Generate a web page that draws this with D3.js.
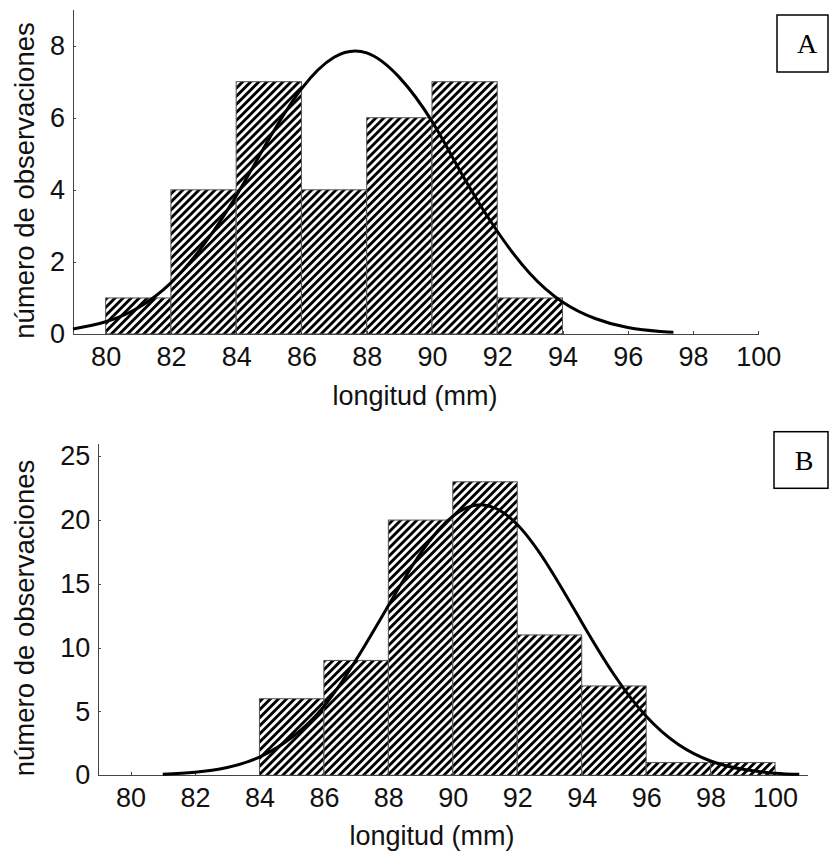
<!DOCTYPE html>
<html>
<head>
<meta charset="utf-8">
<script src="https://cdn.jsdelivr.net/npm/d3@7"></script>
<style>
  html, body { margin: 0; padding: 0; background: #fff; }
  svg { display: block; }
  .tick text { font-family: Arial, "Liberation Sans", sans-serif; font-size: 27px; fill: #111; }
  .axis path, .axis line { stroke: #444; stroke-width: 1; shape-rendering: crispEdges; }
</style>
</head>
<body>
<svg id="chart" width="829" height="857"></svg>
<script>
// ---------- data ----------
const xTicks = [80, 82, 84, 86, 88, 90, 92, 94, 96, 98, 100];
const binWidth = 2;

// Panel A
const binStartsA = [80, 82, 84, 86, 88, 90, 92];
const countsA    = [1, 4, 7, 4, 6, 7, 1];
const yTicksA    = [0, 2, 4, 6, 8];
const curveXA = [79, 80, 81, 82, 83, 84, 85, 86, 87, 88, 89, 90, 91, 92, 93, 94, 95, 96, 97, 97.4];
const curveYA = [0.14, 0.34, 0.73, 1.42, 2.47, 3.83, 5.40, 6.80, 7.68, 7.80, 7.12, 5.90, 4.30, 2.85, 1.68, 0.89, 0.43, 0.18, 0.07, 0.05];

// Panel B
const binStartsB = [84, 86, 88, 90, 92, 94, 96, 98];
const countsB    = [6, 9, 20, 23, 11, 7, 1, 1];
const yTicksB    = [0, 5, 10, 15, 20, 25];
const curveXB = [81, 82, 83, 84, 85, 86, 87, 88, 89, 90, 91, 92, 93, 94, 95, 96, 97, 98, 99, 100, 100.75];
const curveYB = [0.08, 0.24, 0.61, 1.43, 2.96, 5.4, 9.05, 13.3, 17.4, 20.3, 21.17, 19.65, 16.25, 12.0, 7.9, 4.62, 2.41, 1.12, 0.47, 0.17, 0.08];

const xTitle = "longitud (mm)";
const yTitle = "número de observaciones";

// ---------- drawing ----------
const svg = d3.select("#chart");
const defs = svg.append("defs");
const P = 5.7;
const pat = defs.append("pattern")
  .attr("id", "hatch")
  .attr("patternUnits", "userSpaceOnUse")
  .attr("width", P).attr("height", P)
  .attr("patternTransform", "rotate(45)");
pat.append("rect").attr("width", P).attr("height", P).attr("fill", "#fff");
pat.append("rect").attr("width", 2.9).attr("height", P).attr("fill", "#000");

function panel(cfg) {
  const x = d3.scaleLinear().domain(cfg.xDomain).range(cfg.xRange);
  const y = d3.scaleLinear().domain(cfg.yDomain).range(cfg.yRange);
  const g = svg.append("g");

  // bars
  g.selectAll("rect.bar")
    .data(cfg.starts.map((s, i) => ({ s, c: cfg.counts[i] })))
    .join("rect")
    .attr("class", "bar")
    .attr("x", d => x(d.s))
    .attr("width", d => x(d.s + binWidth) - x(d.s))
    .attr("y", d => y(d.c))
    .attr("height", d => y(0) - y(d.c))
    .attr("fill", "url(#hatch)")
    .attr("stroke", "#555")
    .attr("stroke-width", 1);

  // axes
  const xAxis = d3.axisBottom(x).tickValues(xTicks).tickSize(-3).tickSizeOuter(0).tickPadding(13);
  g.append("g").attr("class", "axis")
    .attr("transform", `translate(0,${cfg.yRange[0]})`)
    .call(xAxis);
  const yAxis = d3.axisLeft(y).tickValues(cfg.yTicks).tickSize(-3).tickSizeOuter(0).tickPadding(8);
  g.append("g").attr("class", "axis")
    .attr("transform", `translate(${cfg.xRange[0]},0)`)
    .call(yAxis);

  // curve
  const pts = cfg.cx.map((v, i) => [v, cfg.cy[i]]);
  g.append("path")
    .datum(pts)
    .attr("fill", "none")
    .attr("stroke", "#000")
    .attr("stroke-width", 3)
    .attr("d", d3.line().x(d => x(d[0])).y(d => y(d[1])).curve(d3.curveNatural));

  // titles
  g.append("text")
    .attr("x", cfg.xTitlePos[0]).attr("y", cfg.xTitlePos[1])
    .attr("text-anchor", "middle")
    .style("font-family", "Arial, 'Liberation Sans', sans-serif")
    .style("font-size", "27px").attr("fill", "#111")
    .text(xTitle);
  g.append("text")
    .attr("transform", `translate(${cfg.yTitlePos[0]},${cfg.yTitlePos[1]}) rotate(-90)`)
    .attr("text-anchor", "middle")
    .style("font-family", "Arial, 'Liberation Sans', sans-serif")
    .style("font-size", "27.5px").attr("fill", "#111")
    .text(yTitle);

  // panel label box
  g.append("rect")
    .attr("x", cfg.box[0]).attr("y", cfg.box[1])
    .attr("width", cfg.box[2]).attr("height", cfg.box[3])
    .attr("fill", "#fff").attr("stroke", "#000").attr("stroke-width", 1.5);
  g.append("text")
    .attr("x", cfg.labelPos[0]).attr("y", cfg.labelPos[1])
    .attr("text-anchor", "middle")
    .style("font-family", "'Times New Roman', 'Liberation Serif', serif")
    .style("font-size", "28px").attr("fill", "#000")
    .text(cfg.label);
}

panel({
  xDomain: [79, 100], xRange: [73, 758.3],
  yDomain: [0, 9], yRange: [334, 9.6],
  starts: binStartsA, counts: countsA, yTicks: yTicksA,
  cx: curveXA, cy: curveYA,
  xTitlePos: [415, 405], yTitlePos: [34, 180.5],
  box: [777, 15, 51, 57], labelPos: [807, 53], label: "A"
});

panel({
  xDomain: [79, 101], xRange: [98.3, 807.3],
  yDomain: [0, 26], yRange: [775.3, 443.5],
  starts: binStartsB, counts: countsB, yTicks: yTicksB,
  cx: curveXB, cy: curveYB,
  xTitlePos: [432, 845], yTitlePos: [34, 618],
  box: [774, 431.7, 54, 56.6], labelPos: [804, 470], label: "B"
});
</script>
</body>
</html>
